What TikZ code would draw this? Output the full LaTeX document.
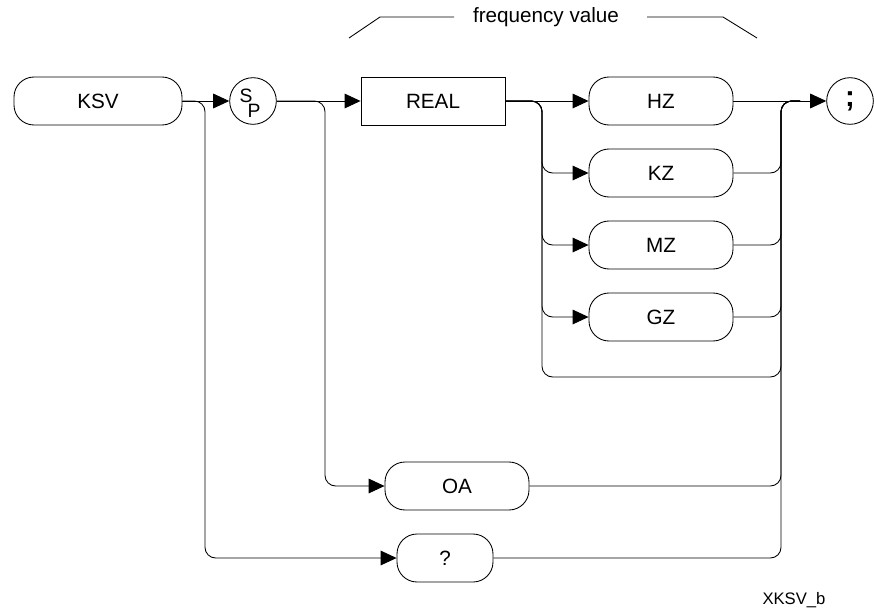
\documentclass[tikz,border=0pt]{standalone}
\usepackage{fontspec}
\setmainfont{Liberation Sans}
\usetikzlibrary{arrows.meta}
\begin{document}
\begin{tikzpicture}[
  x=0.75pt, y=-0.75pt, line width=0.65pt,
  kw/.style={draw, rounded corners=15pt, minimum width=108pt, minimum height=36pt, inner sep=0pt, font=\fontsize{15.5}{18}\selectfont},
  num/.style={draw, minimum width=108pt, minimum height=36pt, inner sep=0pt, font=\fontsize{15.5}{18}\selectfont},
  term/.style={circle, draw, minimum size=35pt, inner sep=0pt},
  flow/.style={-{Triangle[length=12pt, width=11pt]}, rounded corners=8pt},
  merge/.style={rounded corners=8pt}
]
  \useasboundingbox (0,0) rectangle (874,611);
  % Keyword and separator
  \node[kw, minimum width=126pt] (ksv) at (98,101) {KSV};
  \node[term] (sp) at (253,101) {};
  \node[inner sep=0pt, font=\fontsize{14.5}{16}\selectfont] (spS) at (246,96) {S};
  \node[inner sep=0pt, font=\fontsize{14.5}{16}\selectfont] (spP) at (254,111) {P};
  \node[num] (real) at (433,101) {REAL};
  % Units
  \foreach \u [count=\i from 0] in {HZ,KZ,MZ,GZ} {
    \node[kw] (\u) at (661, {101+\i*72}) {\u};
  }
  \node[kw] (oa) at (457,486) {OA};
  \node[kw, minimum width=72pt] (query) at (445,558) {?};
  \node[term, font=\fontsize{22}{24}\selectfont\bfseries] (semi) at (850,101) {;};
  \node[font=\fontsize{12.5}{15}\selectfont] (fig) at (794,600) {XKSV\_b};
  % Frequency value bracket
  \node[font=\fontsize{15.5}{18}\selectfont] (fv) at (546,17) {frequency value};
  \draw (349,38) -- (380,17) -- (454,17);
  \draw (647,17) -- (723,17) -- (757,38);
  % Branch and merge points
  \coordinate (kbr) at (205,101);
  \coordinate (sbr) at (325,101);
  \coordinate (rbr) at (542,101);
  \coordinate (mrg) at (781,101);
  \coordinate (mrgend) at (800,101);
  \coordinate (byp) at (661,377);
  % Main line
  \draw[flow] (ksv) -- (sp);
  \draw[flow] (sp) -- (real);
  \draw[flow] (real) -- (HZ);
  \draw[flow] (HZ) -- (semi);
  % Branches
  \draw[flow] (ksv.east) -| (kbr |- query) -- (query);
  \draw[flow] (sp.east) -| (sbr |- oa) -- (oa);
  \foreach \u in {KZ,MZ,GZ} {
    \draw[flow] (real.east) -| (rbr |- \u) -- (\u);
  }
  \draw[merge] (real.east) -| (rbr |- byp) -| (mrg) -- (mrgend);
  % Merges
  \foreach \u in {KZ,MZ,GZ,oa,query} {
    \draw[merge] (\u.east) -| (mrg) -- (mrgend);
  }
\end{tikzpicture}
\end{document}
